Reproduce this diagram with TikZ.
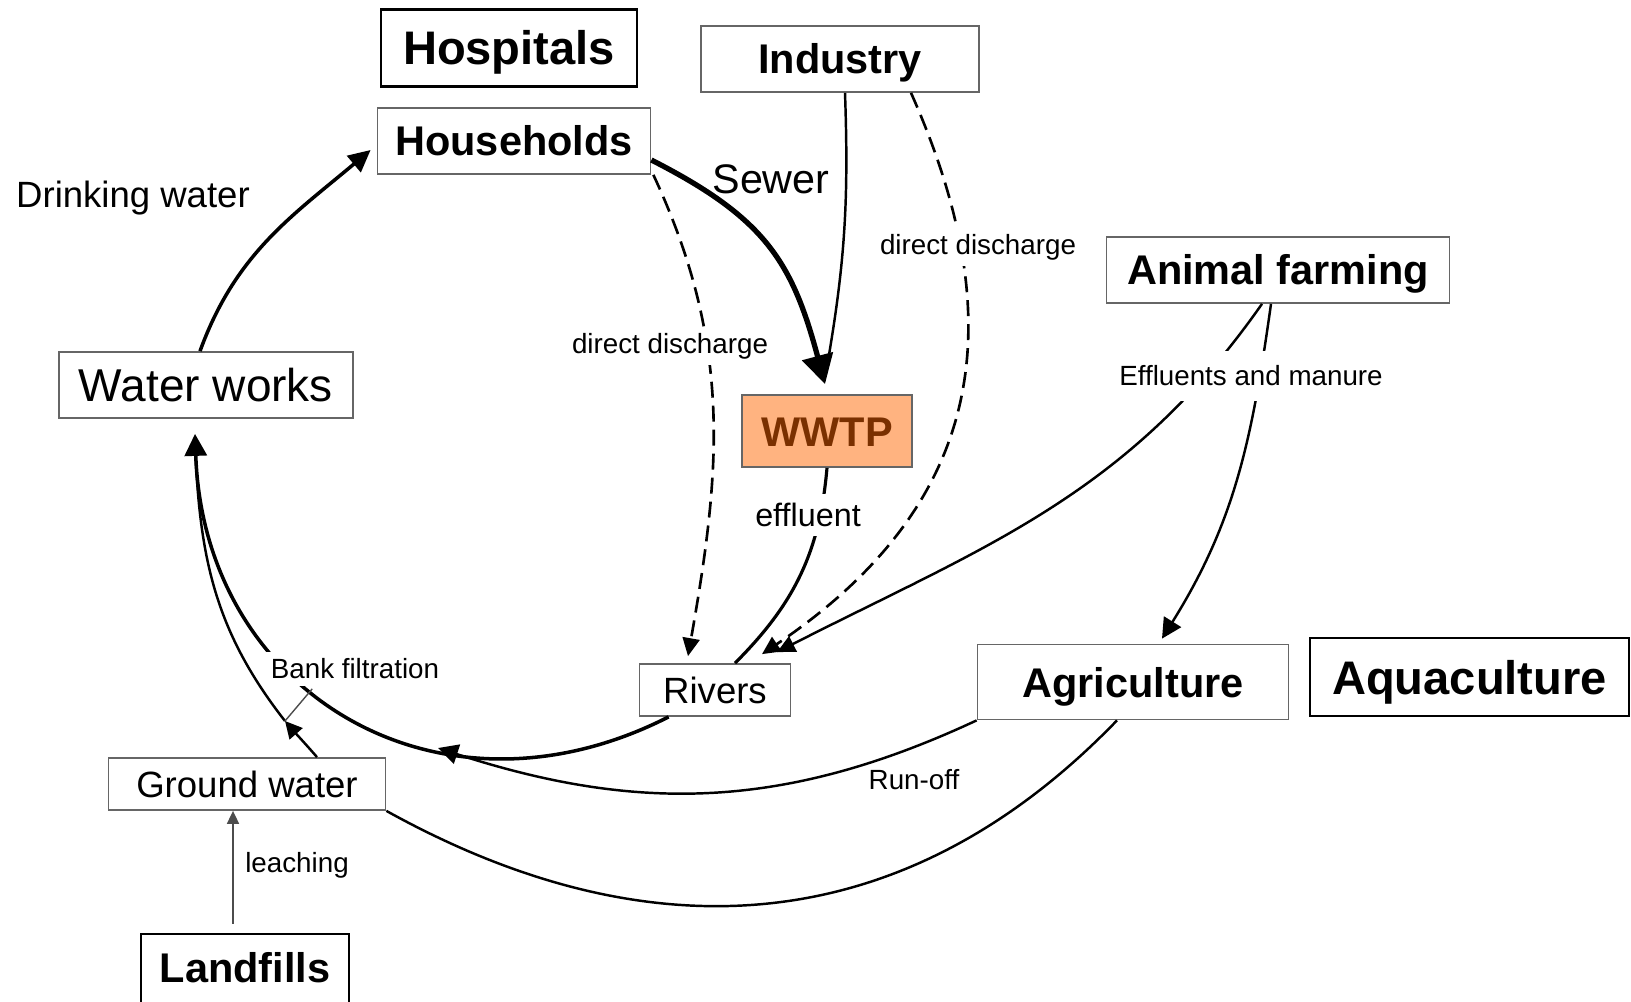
\documentclass[tikz,border=0pt]{standalone}
\usepackage{fontspec}
\setmainfont{Liberation Sans}
\usetikzlibrary{arrows.meta}
\definecolor{wwtpfill}{RGB}{255,179,128}
\definecolor{wwtptext}{RGB}{122,48,0}

\begin{document}
\begin{tikzpicture}[->,>={Triangle[length=0.18cm,width=0.17cm]},
  frame/.style={draw=black!60,line width=0.5pt,fill=white,inner sep=0pt,text depth=0pt},
  source/.style={frame,draw=black,line width=0.65pt,font=\bfseries\fontsize{13.4}{16}\selectfont,text height=0.34cm},
  actor/.style={frame,font=\bfseries\fontsize{11.8}{14}\selectfont,text height=0.30cm},
  water/.style={frame,font=\fontsize{10.4}{12.5}\selectfont,text height=0.26cm},
  lbl/.style={font=\fontsize{7.9}{9.5}\selectfont,fill=white,inner sep=0.06cm},
  flow/.style={line width=0.7pt},
  discharge/.style={line width=0.75pt,dash pattern=on 0.16cm off 0.08cm}]
\useasboundingbox (0,0) rectangle (16.31,-10.02);

\node[source,minimum width=2.56cm,minimum height=0.77cm] (HOS) at (5.09,-0.48) {Hospitals};
\node[actor,minimum width=2.78cm,minimum height=0.66cm] (IND) at (8.40,-0.59) {Industry};
\node[actor,minimum width=2.73cm,minimum height=0.66cm] (HH) at (5.14,-1.41) {Households};
\node[water,font=\fontsize{13.1}{15.5}\selectfont,text height=0.33cm,minimum width=2.94cm,minimum height=0.66cm] (WW) at (2.06,-3.85) {Water works};
\node[actor,minimum width=3.43cm,minimum height=0.66cm] (AF) at (12.78,-2.70) {Animal farming};
\node[actor,fill=wwtpfill,text=wwtptext,minimum width=1.70cm,minimum height=0.72cm] (WWTP) at (8.27,-4.31) {WWTP};
\node[water,minimum width=1.51cm,minimum height=0.52cm] (RIV) at (7.15,-6.90) {Rivers};
\node[actor,minimum width=3.11cm,minimum height=0.75cm] (AGR) at (11.33,-6.82) {Agriculture};
\node[source,minimum width=3.19cm,minimum height=0.78cm] (AQU) at (14.695,-6.77) {Aquaculture};
\node[water,minimum width=2.77cm,minimum height=0.52cm] (GW) at (2.47,-7.84) {Ground water};
\node[source,font=\bfseries\fontsize{11.8}{14}\selectfont,text height=0.30cm,text depth=0.14cm,minimum width=2.08cm,minimum height=0.80cm] (LF) at (2.45,-9.74) {Landfills};

\coordinate (runin) at (4.38,-7.48);
\coordinate (bfin) at (2.85,-7.21);

% drinking water and sewer
\draw[line width=1pt,-{Triangle[length=0.22cm,width=0.21cm]}] ([xshift=-0.06cm]WW.north) to[out=70,in=220] ([xshift=-0.06cm,yshift=-0.09cm]HH.west);
\draw[flow,-] ([xshift=0.05cm]IND.south) to[out=-88,in=80] ([xshift=-0.01cm,yshift=0.22cm]WWTP.north);
\draw[line width=1.5pt,-{Triangle[length=0.29cm,width=0.31cm]}] ([yshift=-0.19cm]HH.east) to[out=-27,in=105,looseness=1.15] ([xshift=-0.02cm,yshift=0.10cm]WWTP.north);

% direct discharge
\draw[discharge] ([xshift=0.02cm]HH.south east) to[out=-65,in=80] ([xshift=-0.27cm,yshift=0.07cm]RIV.north);
\draw[discharge] ([xshift=0.71cm]IND.south) to[out=-66,in=34,looseness=1.15] ([xshift=0.47cm,yshift=0.09cm]RIV.north);

\draw[line width=0.9pt,-] (WWTP.south) to[out=-95,in=45] ([xshift=0.20cm]RIV.north);

% animal farming
\draw[flow] ([xshift=-0.16cm]AF.south) to[out=235,in=27] ([xshift=0.62cm,yshift=0.11cm]RIV.north);
\draw[flow,-{Triangle[length=0.2cm,width=0.2cm]}] ([xshift=-0.07cm]AF.south) to[out=-98,in=58] ([xshift=0.29cm,yshift=0.05cm]AGR.north);

% back to the water works
\draw[flow,-] (bfin) to[out=128,in=-88] ([xshift=-0.11cm,yshift=-0.22cm]WW.south);
\draw[flow,-{Triangle[length=0.17cm,width=0.17cm]}] ([xshift=0.70cm]GW.north) to[out=131,in=-49] (bfin);
\draw[line width=1pt,-{Triangle[length=0.22cm,width=0.22cm]}] ([xshift=0.30cm]RIV.south west) to[out=207,in=-88,looseness=1.2] ([xshift=-0.11cm,yshift=-0.15cm]WW.south);
\draw[flow,-{Triangle[length=0.2cm,width=0.2cm]}] (AGR.south west) to[out=205,in=-18] (runin);
\draw[flow,-] ([xshift=-0.16cm]AGR.south) to[out=226,in=-29,looseness=1.06] (GW.south east);
\draw[line width=0.5pt,black!70,-{Triangle[length=0.13cm,width=0.12cm]}] ([xshift=-0.12cm,yshift=0.09cm]LF.north) -- ([xshift=-0.14cm]GW.south);

% labels
\node[font=\fontsize{10.4}{12.5}\selectfont] (DW) at (1.33,-1.98) {Drinking water};
\node[font=\fontsize{11.75}{14}\selectfont] (SW) at (7.71,-1.79) {Sewer};
\node[lbl] (DD1) at (6.70,-3.46) {direct discharge};
\node[lbl] (DD2) at (9.78,-2.47) {direct discharge};
\node[lbl,inner xsep=0.05cm,inner ysep=0.15cm] (EM) at (12.51,-3.76) {Effluents and manure};
\node[lbl,font=\fontsize{9.2}{11}\selectfont,inner sep=0.09cm] (EF) at (8.08,-5.15) {effluent};
\node[lbl,inner sep=0.07cm] (BF) at (3.55,-6.69) {Bank filtration};
\node[lbl,fill=none] (RO) at (9.14,-7.80) {Run-off};
\node[lbl,fill=none] (LE) at (2.97,-8.65) {leaching};
\draw[line width=0.4pt,black!70,-] ([xshift=0.49cm,yshift=-0.02cm]BF.south west) -- (bfin);
\end{tikzpicture}
\end{document}
